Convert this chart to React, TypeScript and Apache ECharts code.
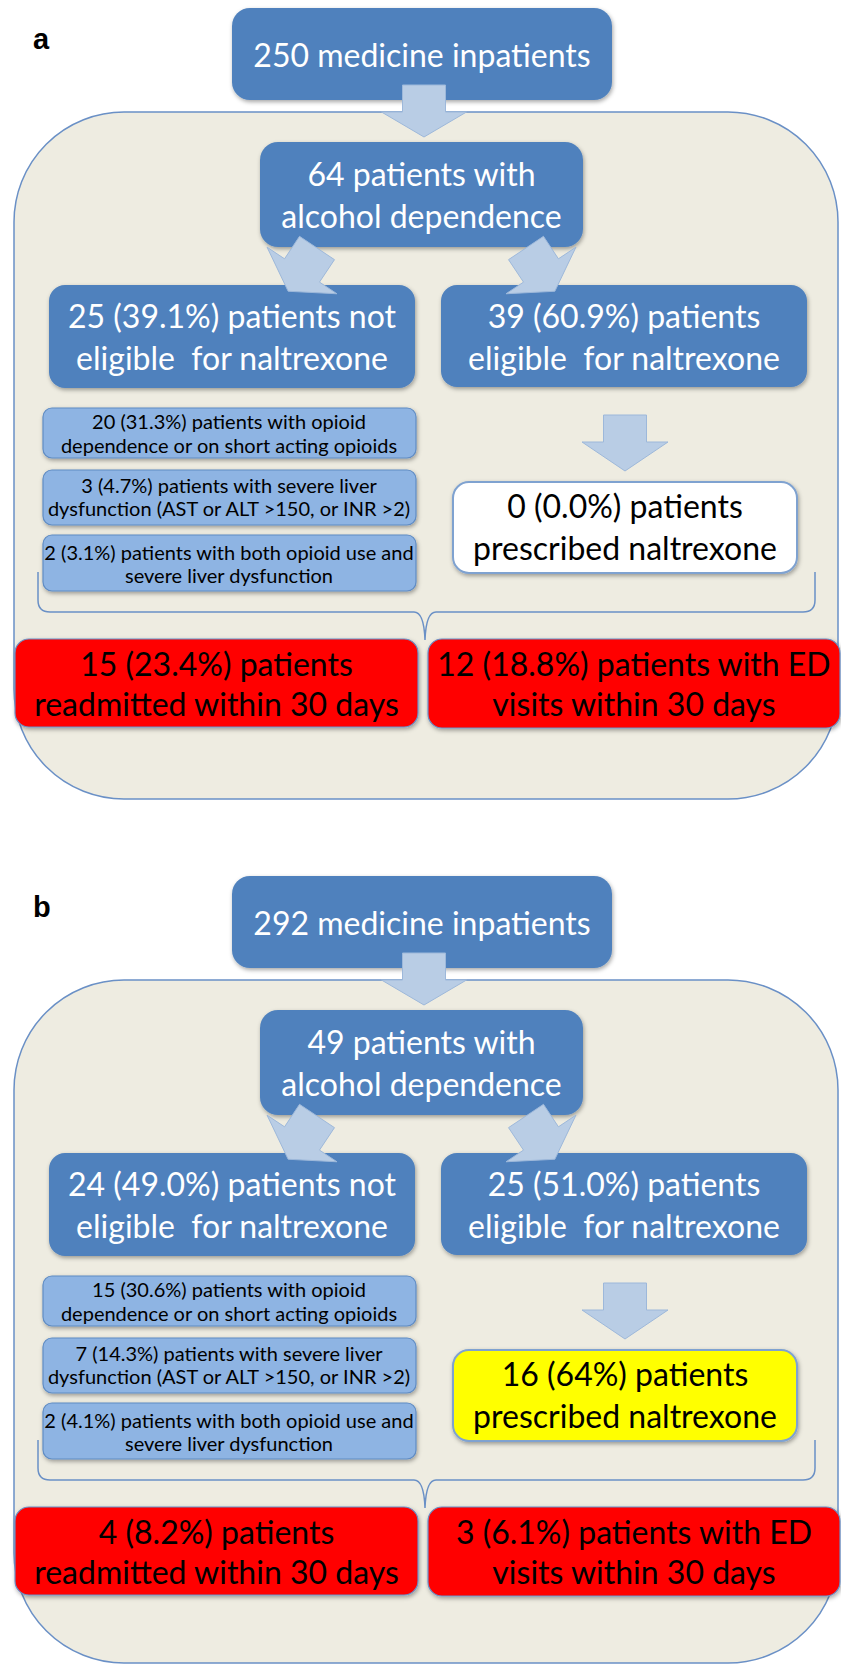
import React, { useEffect, useRef } from "react";
import * as echarts from "echarts";

const W = 841;
const H = 1664;

// ---- data (texts of the flowchart) ----
const panelLabels = ["a", "b"];
const panelOffsets = [0, 868];
const panelHeights = [687, 683];
const topBoxText = ["250 medicine inpatients", "292 medicine inpatients"];
const alcoholText = [
  ["64 patients with", "alcohol dependence"],
  ["49 patients with", "alcohol dependence"],
];
const notEligibleText = [
  ["25 (39.1%) patients not", "eligible  for naltrexone"],
  ["24 (49.0%) patients not", "eligible  for naltrexone"],
];
const eligibleText = [
  ["39 (60.9%) patients", "eligible  for naltrexone"],
  ["25 (51.0%) patients", "eligible  for naltrexone"],
];
const reasonsA = [
  ["20 (31.3%) patients with opioid", "dependence or on short acting opioids"],
  ["3 (4.7%) patients with severe liver", "dysfunction (AST or ALT >150, or INR >2)"],
  ["2 (3.1%) patients with both opioid use and", "severe liver dysfunction"],
];
const reasonsB = [
  ["15 (30.6%) patients with opioid", "dependence or on short acting opioids"],
  ["7 (14.3%) patients with severe liver", "dysfunction (AST or ALT >150, or INR >2)"],
  ["2 (4.1%) patients with both opioid use and", "severe liver dysfunction"],
];
const reasons = [reasonsA, reasonsB];
const prescribedText = [
  ["0 (0.0%) patients", "prescribed naltrexone"],
  ["16 (64%) patients", "prescribed naltrexone"],
];
const prescribedFill = ["#FFFFFF", "#FFFF00"];
const readmitText = [
  ["15 (23.4%) patients", "readmitted within 30 days"],
  ["4 (8.2%) patients", "readmitted within 30 days"],
];
const edText = [
  ["12 (18.8%) patients with ED", "visits within 30 days"],
  ["3 (6.1%) patients with ED", "visits within 30 days"],
];

// ---- styling ----
const BLUE = "#4F81BD";
const LIGHT = "#8EB4E3";
const ARROW = "#B9CDE5";
const ARROW_STROKE = "#9DB8DA";
const PANEL = "#EEECE1";
const FONT = "Lato";
const MAIN_SIZE = 32;
const SMALL_SIZE = 20;

const BRACE_D =
  "M 38 572 L 38 600 Q 38 612 50 612 L 414 612 Q 424 612 425 640 Q 426 612 436 612 L 803 612 Q 815 612 815 600 L 815 572";

function arrowPts(tx: number, ty: number, angDeg: number, sw: number, sl: number, hw: number, hl: number) {
  const a = (angDeg * Math.PI) / 180;
  const n = [Math.cos(a), -Math.sin(a)];
  const d = [Math.sin(a), Math.cos(a)];
  const local = [
    [-sw / 2, 0],
    [sw / 2, 0],
    [sw / 2, sl],
    [hw / 2, sl],
    [0, sl + hl],
    [-hw / 2, sl],
    [-sw / 2, sl],
  ];
  return local.map(([u, v]) => [tx + u * n[0] + v * d[0], ty + u * n[1] + v * d[1]]);
}

function arrow(pts: number[][], z: number) {
  return {
    type: "polygon",
    z,
    shape: { points: pts },
    style: { fill: ARROW, stroke: ARROW_STROKE, lineWidth: 1 },
  };
}

function box(x: number, y: number, w: number, h: number, r: number, fill: string, stroke: string | null, lw: number, z: number) {
  return {
    type: "rect",
    z,
    shape: { x, y, width: w, height: h, r },
    style: {
      fill,
      stroke: stroke || "none",
      lineWidth: lw,
      shadowBlur: 4,
      shadowOffsetX: 1,
      shadowOffsetY: 2,
      shadowColor: "rgba(0,0,0,0.35)",
    },
  };
}

function txt(text: string, x: number, y: number, size: number, color: string, z = 10, weight = "normal", family = FONT, align = "center") {
  return {
    type: "text",
    z,
    x,
    y,
    style: {
      text,
      fill: color,
      font: `${weight} ${size}px ${family}`,
      textAlign: align,
      textVerticalAlign: "middle",
      verticalAlign: "middle",
    },
  };
}

function buildPanel(i: number) {
  const o = panelOffsets[i];
  const els: any[] = [];
  // panel background
  els.push({
    type: "rect",
    z: 1,
    shape: { x: 14, y: 112 + o, width: 824, height: panelHeights[i], r: 110 },
    style: { fill: PANEL, stroke: "#6A90C6", lineWidth: 1.5 },
  });
  // brace
  els.push({
    type: "brace",
    z: 2,
    x: 0,
    y: o,
    style: { fill: "none", stroke: "#6A90C6", lineWidth: 1.5 },
  });
  // label
  els.push(txt(panelLabels[i], 33, 39 + o, 29, "#000000", 10, "bold", "Liberation Sans", "left"));
  // top box
  els.push(box(232, 8 + o, 380, 92, 18, BLUE, null, 0, 3));
  els.push(txt(topBoxText[i], 422, 54 + o, MAIN_SIZE, "#FFFFFF"));
  // arrow to alcohol box
  els.push(arrow(arrowPts(424, 85 + o, 0, 43, 27, 85, 25), 4));
  // alcohol box
  els.push(box(260, 142 + o, 323, 105, 18, BLUE, null, 0, 3));
  els.push(txt(alcoholText[i][0], 421.5, 173 + o, MAIN_SIZE, "#FFFFFF"));
  els.push(txt(alcoholText[i][1], 421.5, 215 + o, MAIN_SIZE, "#FFFFFF"));
  // diagonal arrows
  els.push(arrow(arrowPts(317, 248 + o, -33.7, 42, 27, 84, 25), 4));
  els.push(arrow(arrowPts(526, 248 + o, 33.7, 42, 27, 84, 25), 4));
  // not eligible / eligible boxes
  els.push(box(49, 285 + o, 366, 103, 16, BLUE, null, 0, 3));
  els.push(txt(notEligibleText[i][0], 232, 315 + o, MAIN_SIZE, "#FFFFFF"));
  els.push(txt(notEligibleText[i][1], 232, 357 + o, MAIN_SIZE, "#FFFFFF"));
  els.push(box(441, 285 + o, 366, 102, 16, BLUE, null, 0, 3));
  els.push(txt(eligibleText[i][0], 624, 315 + o, MAIN_SIZE, "#FFFFFF"));
  els.push(txt(eligibleText[i][1], 624, 357 + o, MAIN_SIZE, "#FFFFFF"));
  // reason boxes
  const rb = [
    [408, 50, 421, 445],
    [470, 55, 485, 508],
    [535, 56, 552, 575],
  ];
  reasons[i].forEach((lines, k) => {
    const [y, h, l1, l2] = rb[k];
    els.push(box(43, y + o, 373, h, 9, LIGHT, "#5F8CC4", 1.2, 3));
    els.push(txt(lines[0], 229, l1 + o, SMALL_SIZE, "#000000"));
    els.push(txt(lines[1], 229, l2 + o, SMALL_SIZE, "#000000"));
  });
  // arrow to prescribed box
  els.push(arrow(arrowPts(625, 415 + o, 0, 43, 27, 86, 29), 4));
  // prescribed box
  els.push(box(453, 482 + o, 344, 91, 16, prescribedFill[i], "#7FA2D0", 2, 3));
  els.push(txt(prescribedText[i][0], 625, 505 + o, MAIN_SIZE, "#000000"));
  els.push(txt(prescribedText[i][1], 625, 547 + o, MAIN_SIZE, "#000000"));
  // red outcome boxes
  els.push(box(15, 639 + o, 403, 88, 14, "#FF0000", "#6A90C6", 1.2, 3));
  els.push(txt(readmitText[i][0], 216.5, 663 + o, MAIN_SIZE, "#000000"));
  els.push(txt(readmitText[i][1], 216.5, 703 + o, MAIN_SIZE, "#000000"));
  els.push(box(428, 639 + o, 412, 89, 14, "#FF0000", "#6A90C6", 1.2, 3));
  els.push(txt(edText[i][0], 634, 663 + o, MAIN_SIZE, "#000000"));
  els.push(txt(edText[i][1], 634, 703 + o, MAIN_SIZE, "#000000"));
  return els;
}

let registered = false;

export default function App() {
  const ref = useRef<HTMLDivElement>(null);
  useEffect(() => {
    document.body.style.margin = "0";
    if (!registered) {
      echarts.graphic.registerShape("brace", echarts.graphic.extendPath(BRACE_D, {}) as any);
      registered = true;
    }
    const chart = echarts.init(ref.current as HTMLDivElement, null, { renderer: "svg", width: W, height: H });
    const elements = [...buildPanel(0), ...buildPanel(1)];
    chart.setOption({
      animation: false,
      backgroundColor: "#FFFFFF",
      graphic: { elements },
    });
    return () => chart.dispose();
  }, []);
  return <div ref={ref} style={{ width: W, height: H }} />;
}
